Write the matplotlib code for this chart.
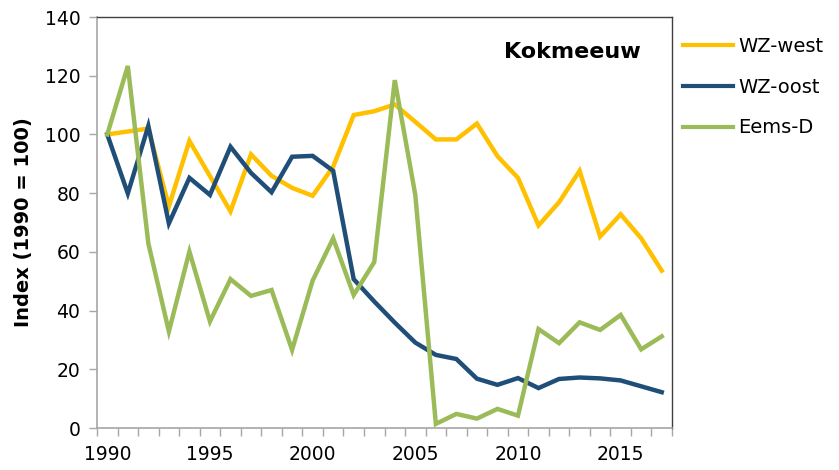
import matplotlib
matplotlib.use("Agg")
import matplotlib.pyplot as plt
from matplotlib.ticker import FixedLocator

years = list(range(1990, 2018))
wz_west = [100, 101, 102, 75.5, 97.8, 85.8, 73.8, 93.2, 85.9, 81.8, 79.1, 89.0, 106.6, 107.9, 110.2,
           104.3, 98.3, 98.3, 103.7, 92.6, 85.2, 69.0, 76.9, 87.6, 65.2, 72.8, 64.6, 53.6]
wz_oost = [100, 79.9, 102.9, 69.7, 85.2, 79.4, 95.8, 86.9, 80.3, 92.4, 92.7, 87.6, 50.7, 43.1, 35.9,
           29.1, 24.9, 23.5, 16.8, 14.7, 17.0, 13.6, 16.7, 17.2, 16.9, 16.2, 14.2, 12.2]
eems_d = [100, 123.3, 62.9, 32.9, 60.1, 36.3, 50.7, 45.0, 47.0, 26.6, 50.2, 64.6, 45.3, 56.5, 118.5,
          79.4, 1.4, 4.8, 3.2, 6.5, 4.2, 33.7, 28.9, 36.0, 33.4, 38.5, 26.8, 31.2]
series = [("WZ-west", wz_west, "#FFC000"),
          ("WZ-oost", wz_oost, "#1F4E79"),
          ("Eems-D", eems_d, "#9BBB59")]
label_years = [1990, 1995, 2000, 2005, 2010, 2015]
y_ticks = [0, 20, 40, 60, 80, 100, 120, 140]

plt.rcParams['font.family'] = ['DejaVu Sans']
fig = plt.figure(figsize=(8.39, 4.70), dpi=100)
ax = fig.add_axes([97/839, 1-428/470, (672-97)/839, (428-17)/470])

x = list(range(len(years)))
for name, vals, col in series:
    ax.plot(x, vals, color=col, lw=3.2, label=name, solid_joinstyle='miter')

ax.set_xlim(-0.5, len(years)-0.5)
ax.set_ylim(0, 140)
ax.set_yticks(y_ticks)
ax.set_yticklabels([str(v) for v in y_ticks], fontsize=13.5)
ax.set_xticks([years.index(y) for y in label_years])
ax.set_xticklabels([str(y) for y in label_years], fontsize=13.5)
ax.tick_params(axis='x', which='major', length=0, pad=12)
ax.xaxis.set_minor_locator(FixedLocator([i - 0.5 for i in range(len(years)+1)]))
ax.tick_params(axis='x', which='minor', length=6, color='#A6A6A6', width=1)
ax.tick_params(axis='y', length=6, color='#A6A6A6', width=1, pad=6)

for s in ['left', 'bottom']:
    ax.spines[s].set_color('#A6A6A6')
    ax.spines[s].set_linewidth(1.2)
for s in ['top', 'right']:
    ax.spines[s].set_color('#404040')
    ax.spines[s].set_linewidth(1.0)

ax.set_ylabel("Index (1990 = 100)", fontsize=14, fontweight='bold', labelpad=8)
ax.text(0.945, 0.915, "Kokmeeuw", transform=ax.transAxes, ha='right', va='center',
        fontsize=16, fontweight='bold')

leg = ax.legend(loc='upper left', bbox_to_anchor=(0.995, 0.985), frameon=False,
                fontsize=14, handlelength=2.6, handletextpad=0.25, labelspacing=1.12,
                borderaxespad=0.3)
for h in leg.legend_handles:
    h.set_linewidth(3)

fig.savefig("out.png", dpi=100)
